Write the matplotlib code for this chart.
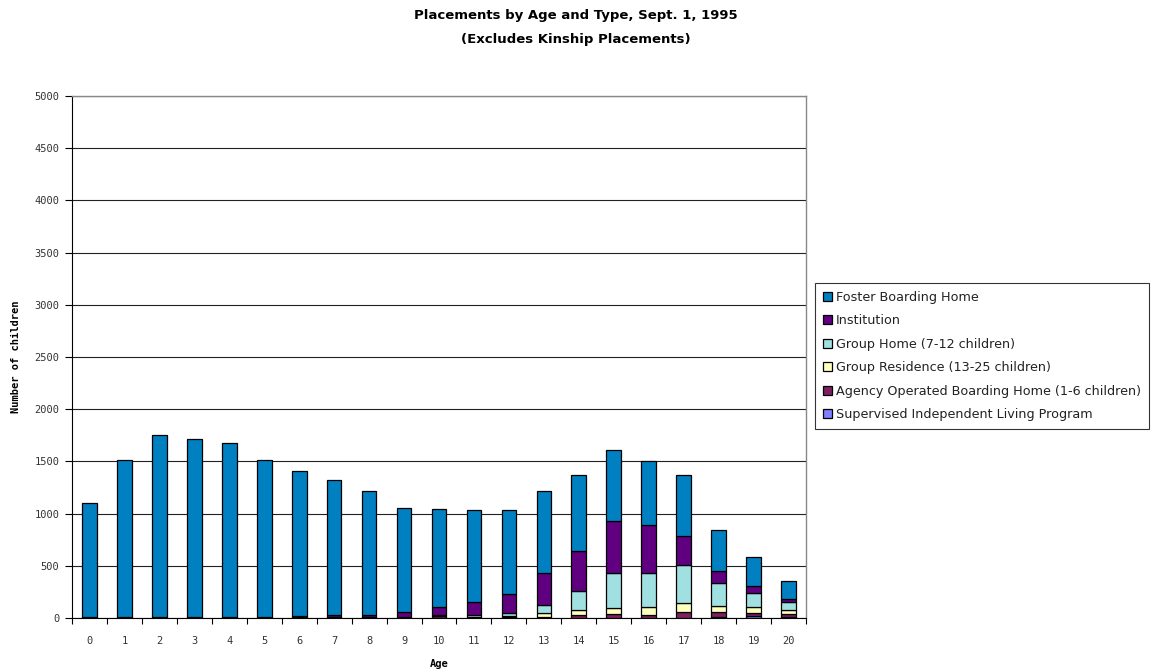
import matplotlib
matplotlib.use("Agg")
import matplotlib.pyplot as plt
import numpy as np

ages = [str(a) for a in range(21)]

supervised = [0, 0, 0, 0, 0, 0, 0, 0, 0, 0, 0, 0, 0, 0, 0, 3, 3, 3, 12, 15, 14]
agency = [5, 4, 6, 6, 4, 4, 6, 8, 8, 10, 15, 10, 12, 13, 29, 32, 28, 56, 42, 35, 25]
group_residence = [0, 0, 0, 0, 0, 0, 0, 0, 0, 0, 3, 2, 10, 32, 48, 65, 76, 89, 63, 55, 34]
group_home = [0, 0, 0, 0, 0, 0, 0, 0, 0, 2, 6, 20, 30, 80, 182, 331, 324, 355, 215, 138, 80]
institution = [5, 4, 8, 8, 4, 4, 9, 20, 24, 48, 81, 120, 180, 303, 383, 498, 457, 282, 118, 67, 31]
foster = [1095, 1502, 1736, 1696, 1667, 1502, 1395, 1297, 1188, 992, 938, 878, 804, 784,
          726, 678, 620, 585, 396, 275, 171]

series_labels = ["Foster Boarding Home", "Institution", "Group Home (7-12 children)",
                 "Group Residence (13-25 children)",
                 "Agency Operated Boarding Home (1-6 children)",
                 "Supervised Independent Living Program"]
series_values = [foster, institution, group_home, group_residence, agency, supervised]
series_colors = ["#0080C0", "#600080", "#A0E0E0", "#FFFFC0", "#802060", "#8080FF"]

tick_font = "DejaVu Sans Mono"

fig = plt.figure(figsize=(11.52, 6.72), dpi=100)
ax = fig.add_axes([72 / 1152, 1 - 618 / 672, (806 - 72) / 1152, (618 - 96) / 672])

x = np.arange(len(ages))
bottom = np.zeros(len(ages))
handles = {}
# stack from bottom: supervised first, foster on top
for lab, vals, col in reversed(list(zip(series_labels, series_values, series_colors))):
    v = np.array(vals, dtype=float)
    b = ax.bar(x, v, width=0.42, bottom=bottom, color=col, edgecolor="black",
               linewidth=0.9, label=lab, zorder=3)
    handles[lab] = b
    bottom += v

ax.set_xlim(-0.5, len(ages) - 0.5)
ax.set_ylim(0, 5000)
ax.set_yticks(np.arange(0, 5001, 500))
ax.set_yticklabels([str(t) for t in range(0, 5001, 500)], family=tick_font)
ax.set_xticks(x)
ax.set_xticklabels(ages, family=tick_font)
ax.set_xticks(np.arange(-0.5, len(ages), 1.0), minor=True)
ax.tick_params(axis="x", which="major", length=0, pad=13, labelsize=7.5, colors="#333333")
ax.tick_params(axis="x", which="minor", length=4, width=0.8, direction="out", color="black")
ax.tick_params(axis="y", which="major", length=5, width=0.8, direction="out",
               labelsize=7.5, labelcolor="#333333", color="black", pad=4)

ax.yaxis.grid(True, color="#222222", linewidth=0.8, zorder=0)
ax.set_axisbelow(True)
for side in ["top", "right"]:
    ax.spines[side].set_color("#888888")
    ax.spines[side].set_linewidth(1.0)
ax.spines["left"].set_color("black")
ax.spines["bottom"].set_color("black")

ax.set_ylabel("Number of children", fontsize=7.5, fontweight="bold", labelpad=10,
              family=tick_font)
ax.set_xlabel("Age", fontsize=7.5, fontweight="bold", labelpad=9, family=tick_font)

fig.text(0.5, 1 - 16 / 672, "Placements by Age and Type, Sept. 1, 1995", ha="center",
         va="center", fontsize=9.5, fontweight="bold")
fig.text(0.5, 1 - 39 / 672, "(Excludes Kinship Placements)", ha="center",
         va="center", fontsize=9.5, fontweight="bold")

leg = fig.legend([handles[l] for l in series_labels], series_labels,
                 loc="upper left", bbox_to_anchor=(815 / 1152, 1 - 283 / 672),
                 prop={"size": 9.2}, frameon=True, fancybox=False, edgecolor="black",
                 handlelength=0.7, handleheight=0.7, handletextpad=0.35,
                 labelspacing=0.82, borderpad=0.6, borderaxespad=0)
leg.get_frame().set_linewidth(0.8)
for t in leg.get_texts():
    t.set_color("#222222")

fig.savefig("out.png", dpi=100)
